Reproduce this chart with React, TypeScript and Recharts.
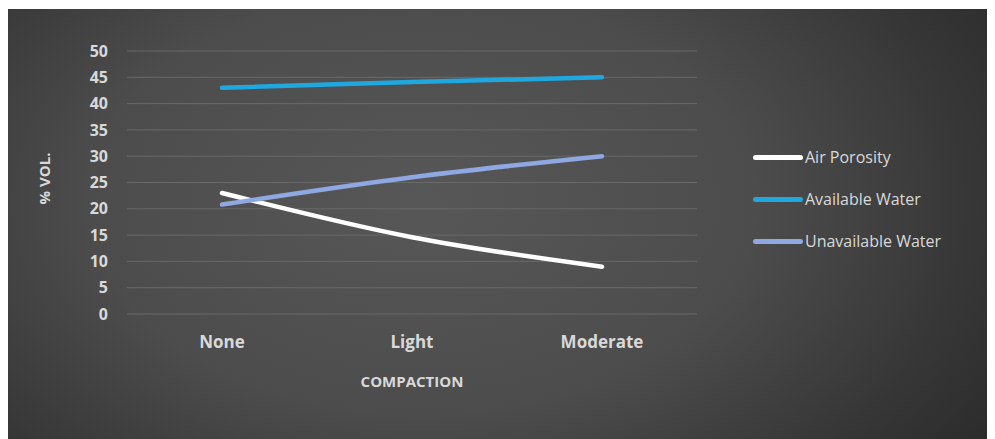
import React from "react";
import { LineChart, Line, XAxis, YAxis, CartesianGrid, Label } from "recharts";

const categories = ["None", "Light", "Moderate"];
const airPorosity = [23, 14.6, 9];
const availableWater = [43, 44.1, 45];
const unavailableWater = [20.8, 26, 30];
const yTicks = [0, 5, 10, 15, 20, 25, 30, 35, 40, 45, 50];

const series = [
  { key: "air", name: "Air Porosity", values: airPorosity, color: "#ffffff" },
  { key: "avail", name: "Available Water", values: availableWater, color: "#1fa8e0" },
  { key: "unavail", name: "Unavailable Water", values: unavailableWater, color: "#8fa8e2" },
];

const data = categories.map((c, i) => {
  const row: Record<string, string | number> = { category: c };
  series.forEach((s) => (row[s.key] = s.values[i]));
  return row;
});

const FONT = "'Open Sans', 'Liberation Sans', sans-serif";
const TEXT = "#d9d9d9";

const YLabel = (props: any) => {
  const vb = props.viewBox || { x: 0, y: 0, width: 0, height: 0 };
  const cx = vb.x + 36;
  const cy = vb.y + vb.height / 2 - 4;
  return (
    <text
      x={cx}
      y={cy}
      transform={`rotate(-90, ${cx}, ${cy})`}
      textAnchor="middle"
      dominantBaseline="central"
      fill={TEXT}
      fontFamily={FONT}
      fontWeight={700}
      fontSize={15}
    >
      % VOL.
    </text>
  );
};

export default function App() {
  return (
    <div
      style={{
        position: "relative",
        width: 987,
        height: 430,
        marginTop: 1,
        background:
          "radial-gradient(ellipse 75% 110% at 42% 45%, #575757 0%, #4c4c4c 45%, #363636 75%, #262626 100%)",
      }}
    >
      <LineChart
        width={987}
        height={430}
        data={data}
        margin={{ top: 42, right: 298, left: 0, bottom: 50 }}
      >
        <CartesianGrid vertical={false} stroke="#696969" strokeWidth={1} />
        <XAxis
          dataKey="category"
          scale="band"
          axisLine={false}
          tickLine={false}
          tickSize={6}
          tickMargin={16}
          height={75}
          tick={{ fill: TEXT, fontFamily: FONT, fontWeight: 700, fontSize: 17 }}
          interval={0}
        >
          <Label
            value="COMPACTION"
            position="insideBottom"
            offset={2}
            fill={TEXT}
            fontFamily={FONT}
            fontWeight={700}
            fontSize={15}
          />
        </XAxis>
        <YAxis
          domain={[0, 50]}
          ticks={yTicks}
          interval={0}
          axisLine={false}
          tickLine={false}
          tickSize={6}
          tickMargin={13}
          width={119}
          tick={{ fill: TEXT, fontFamily: FONT, fontWeight: 700, fontSize: 16 }}
        >
          <Label content={<YLabel />} />
        </YAxis>
        {series.map((s) => (
          <Line
            key={s.key}
            dataKey={s.key}
            name={s.name}
            type="monotone"
            stroke={s.color}
            strokeWidth={4.5}
            strokeLinecap="round"
            dot={false}
            activeDot={false}
            isAnimationActive={false}
          />
        ))}
      </LineChart>
      <div style={{ position: "absolute", left: 745, top: 127, fontFamily: FONT }}>
        {series.map((s) => (
          <div key={s.key} style={{ display: "flex", alignItems: "center", height: 42 }}>
            <div style={{ width: 50, height: 5, background: s.color, borderRadius: 2.5 }} />
            <span style={{ color: TEXT, fontSize: 16, marginLeft: 2, whiteSpace: "nowrap" }}>{s.name}</span>
          </div>
        ))}
      </div>
    </div>
  );
}
